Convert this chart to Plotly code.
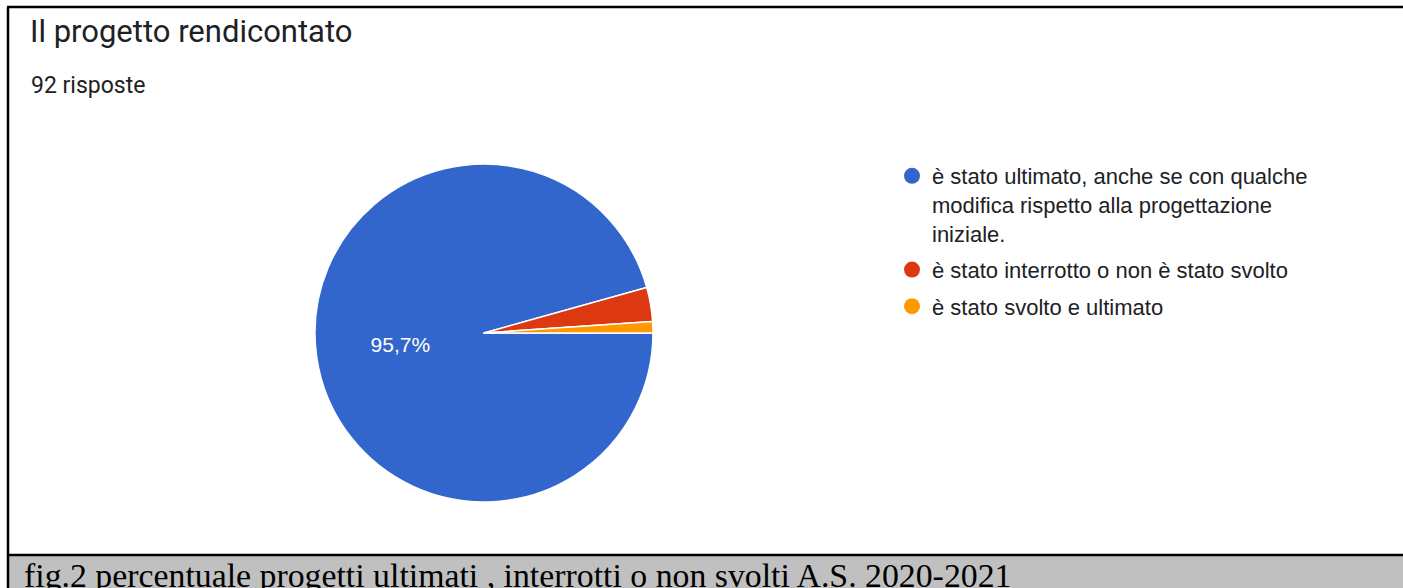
import plotly.graph_objects as go

# Data (92 responses)
labels = [
    "è stato ultimato, anche se con qualche<br>modifica rispetto alla progettazione<br>iniziale.",
    "è stato interrotto o non è stato svolto",
    "è stato svolto e ultimato",
]
counts = [88, 3, 1]
colors = ["#3366CC", "#DC3912", "#FF9900"]
title_text = "Il progetto rendicontato"
subtitle_text = "92 risposte"
caption_text = "fig.2 percentuale progetti ultimati , interrotti o non svolti A.S. 2020-2021"

W, H = 1403, 588
SANS = "'Liberation Sans', Arial, sans-serif"


def px_x(x):
    return x / W


def px_y(y):
    return 1 - y / H


fig = go.Figure()

# Pie itself, slices clockwise starting at 3 o'clock
fig.add_trace(go.Pie(
    labels=labels,
    values=counts,
    sort=False,
    direction="clockwise",
    rotation=90,
    marker=dict(colors=colors, line=dict(color="white", width=1.5)),
    texttemplate=["%{percent:.1%}", "", ""],
    textposition="inside",
    insidetextorientation="horizontal",
    textfont=dict(family=SANS, size=21, color="white"),
    hoverinfo="label+value+percent",
    showlegend=False,
    domain=dict(x=[px_x(315), px_x(653)], y=[px_y(502), px_y(164)]),
))

# Legend entries with round markers (Google Forms style)
for i, (lab, col) in enumerate(zip(labels, colors)):
    fig.add_trace(go.Scatter(
        x=[None], y=[None], mode="markers", name=lab,
        legendgroup=f"g{i}",
        marker=dict(symbol="circle", size=21, color=col),
        hoverinfo="skip",
    ))

fig.update_layout(
    width=W, height=H,
    margin=dict(l=0, r=0, t=0, b=0),
    paper_bgcolor="white",
    plot_bgcolor="white",
    separators=",.",
    xaxis=dict(visible=False, showgrid=False, zeroline=False, showline=False),
    yaxis=dict(visible=False, showgrid=False, zeroline=False, showline=False),
    legend=dict(
        x=px_x(892), y=px_y(155), xanchor="left", yanchor="top",
        valign="top",
        font=dict(family=SANS, size=22, color="#202124"),
        bgcolor="rgba(0,0,0,0)", borderwidth=0,
        itemwidth=30,
        tracegroupgap=5,
    ),
    font=dict(family="Roboto, Arial, sans-serif", color="#202124"),
)

# Title and response count
fig.add_annotation(text=title_text, x=px_x(28), y=px_y(32), xref="paper", yref="paper",
                   xanchor="left", yanchor="middle", showarrow=False,
                   font=dict(size=31, color="#202124"))
fig.add_annotation(text=subtitle_text, x=px_x(29), y=px_y(85), xref="paper", yref="paper",
                   xanchor="left", yanchor="middle", showarrow=False,
                   font=dict(size=23, color="#202124"))

# Frame and grey caption band
fig.add_shape(type="rect", xref="paper", yref="paper",
              x0=px_x(9), x1=1, y0=0, y1=px_y(555),
              fillcolor="#C0C0C0", line=dict(width=0), layer="below")
# white mask on the right edge (no right border in the original)
fig.add_shape(type="rect", xref="paper", yref="paper",
              x0=px_x(1380), x1=1, y0=px_y(553.5), y1=px_y(9),
              fillcolor="white", line=dict(width=0), layer="above")
fig.add_shape(type="line", xref="paper", yref="paper",
              x0=px_x(7), x1=1, y0=px_y(7), y1=px_y(7),
              line=dict(color="black", width=2.5))
fig.add_shape(type="line", xref="paper", yref="paper",
              x0=px_x(8), x1=px_x(8), y0=0, y1=px_y(7),
              line=dict(color="black", width=2.5))
fig.add_shape(type="line", xref="paper", yref="paper",
              x0=px_x(8), x1=1, y0=px_y(555), y1=px_y(555),
              line=dict(color="black", width=2.5))

fig.add_annotation(text=caption_text, x=px_x(22), y=px_y(575), xref="paper", yref="paper",
                   xanchor="left", yanchor="middle", showarrow=False,
                   font=dict(family="'Liberation Serif', 'DejaVu Serif', serif", size=33.8, color="black"))

fig.write_html(
    "out.html", config={"displayModeBar": False},
    post_script="document.body.style.margin='0px';"
                "document.body.style.overflow='hidden';"
                "document.documentElement.style.overflow='hidden';",
)
